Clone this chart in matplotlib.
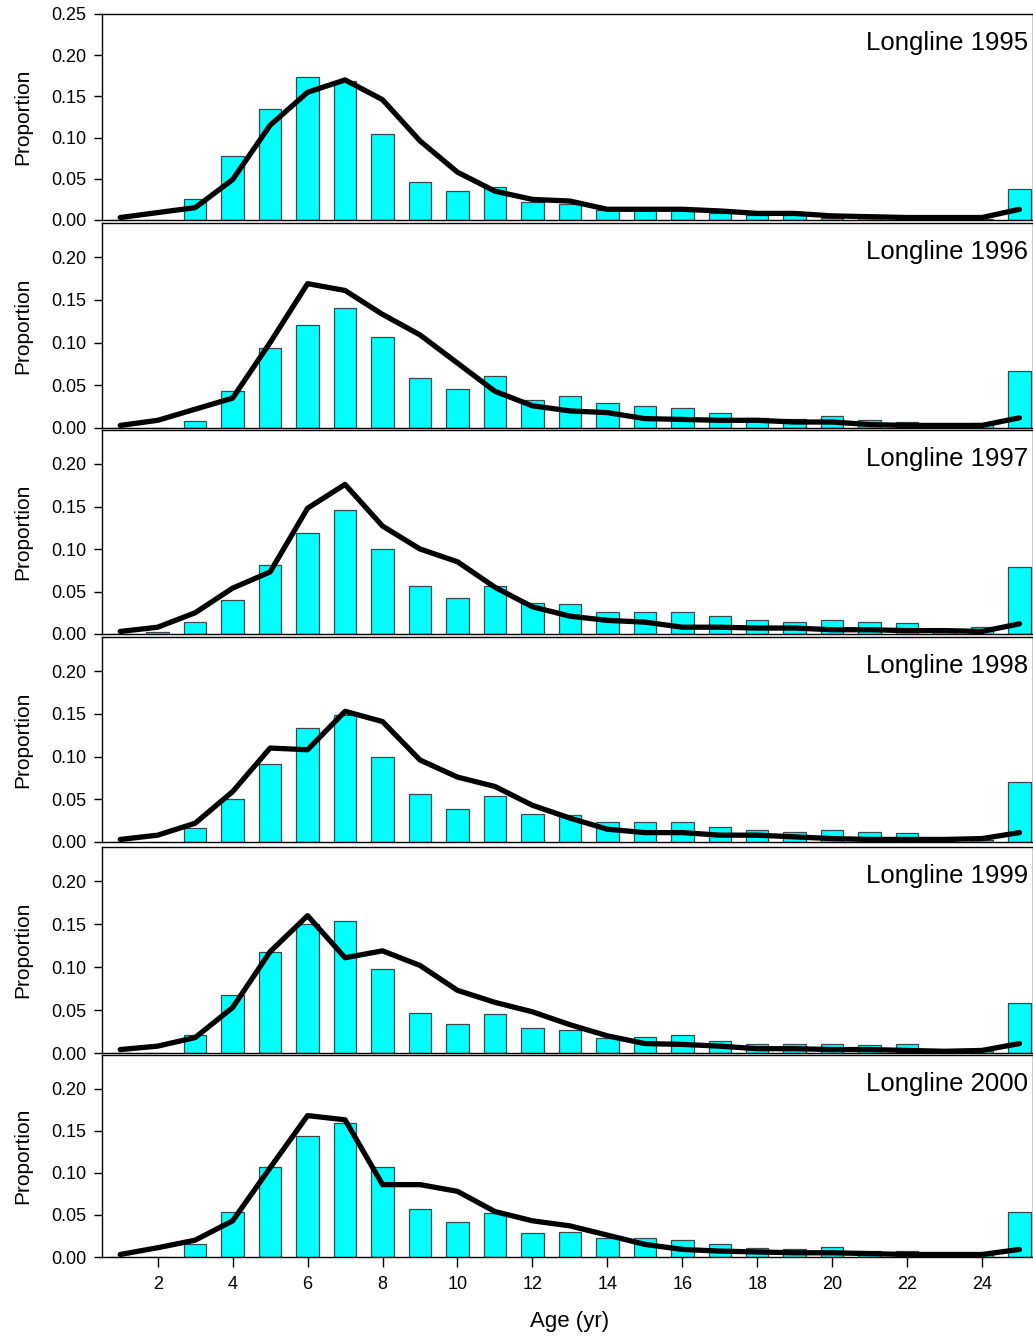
import matplotlib
matplotlib.use("Agg")
import matplotlib.pyplot as plt
import numpy as np

plt.rcParams['font.family'] = ['Liberation Sans', 'DejaVu Sans']

ages = list(range(1, 26))
years = ["1995", "1996", "1997", "1998", "1999", "2000"]

obs_1995 = [0.000, 0.000, 0.026, 0.078, 0.135, 0.174, 0.169, 0.104, 0.046, 0.035, 0.040, 0.022, 0.020,
            0.012, 0.012, 0.012, 0.008, 0.006, 0.006, 0.003, 0.002, 0.002, 0.002, 0.001, 0.038]
fit_1995 = [0.003, 0.009, 0.015, 0.049, 0.115, 0.155, 0.170, 0.146, 0.096, 0.058, 0.035, 0.025, 0.023,
            0.013, 0.013, 0.013, 0.011, 0.008, 0.008, 0.005, 0.004, 0.003, 0.003, 0.003, 0.013]

obs_1996 = [0.000, 0.000, 0.008, 0.043, 0.094, 0.121, 0.141, 0.106, 0.059, 0.046, 0.061, 0.033, 0.038,
            0.029, 0.026, 0.024, 0.017, 0.012, 0.010, 0.014, 0.009, 0.007, 0.002, 0.006, 0.067]
fit_1996 = [0.003, 0.009, 0.022, 0.035, 0.100, 0.169, 0.161, 0.133, 0.109, 0.076, 0.043, 0.026, 0.020,
            0.018, 0.011, 0.010, 0.009, 0.009, 0.007, 0.007, 0.004, 0.003, 0.003, 0.003, 0.012]

obs_1997 = [0.000, 0.002, 0.014, 0.040, 0.081, 0.119, 0.146, 0.100, 0.056, 0.042, 0.056, 0.036, 0.035,
            0.026, 0.026, 0.026, 0.021, 0.016, 0.014, 0.016, 0.014, 0.013, 0.002, 0.008, 0.079]
fit_1997 = [0.003, 0.008, 0.025, 0.054, 0.073, 0.148, 0.176, 0.127, 0.100, 0.085, 0.055, 0.032, 0.021,
            0.016, 0.014, 0.008, 0.008, 0.007, 0.007, 0.005, 0.005, 0.004, 0.004, 0.003, 0.012]

obs_1998 = [0.000, 0.000, 0.016, 0.050, 0.091, 0.133, 0.149, 0.099, 0.056, 0.039, 0.054, 0.033, 0.032,
            0.023, 0.023, 0.023, 0.018, 0.014, 0.012, 0.014, 0.012, 0.011, 0.002, 0.002, 0.070]
fit_1998 = [0.003, 0.008, 0.022, 0.059, 0.110, 0.108, 0.153, 0.141, 0.096, 0.076, 0.065, 0.043, 0.028,
            0.015, 0.011, 0.011, 0.008, 0.008, 0.006, 0.004, 0.003, 0.003, 0.003, 0.004, 0.011]

obs_1999 = [0.000, 0.000, 0.021, 0.068, 0.118, 0.150, 0.154, 0.098, 0.047, 0.034, 0.045, 0.029, 0.027,
            0.018, 0.019, 0.021, 0.014, 0.011, 0.010, 0.011, 0.009, 0.010, 0.002, 0.002, 0.058]
fit_1999 = [0.004, 0.008, 0.018, 0.053, 0.118, 0.160, 0.111, 0.119, 0.102, 0.073, 0.059, 0.048, 0.033,
            0.020, 0.011, 0.010, 0.008, 0.005, 0.005, 0.004, 0.004, 0.003, 0.002, 0.003, 0.011]

obs_2000 = [0.000, 0.000, 0.015, 0.054, 0.107, 0.144, 0.159, 0.107, 0.057, 0.041, 0.052, 0.029, 0.030,
            0.022, 0.022, 0.020, 0.015, 0.011, 0.009, 0.012, 0.007, 0.007, 0.002, 0.002, 0.053]
fit_2000 = [0.003, 0.011, 0.020, 0.043, 0.106, 0.168, 0.163, 0.086, 0.086, 0.078, 0.054, 0.043, 0.037,
            0.026, 0.015, 0.009, 0.007, 0.006, 0.005, 0.005, 0.004, 0.003, 0.003, 0.003, 0.009]

observed = [obs_1995, obs_1996, obs_1997, obs_1998, obs_1999, obs_2000]
fitted = [fit_1995, fit_1996, fit_1997, fit_1998, fit_1999, fit_2000]
xticks = list(range(2, 25, 2))

W, H = 1033, 1338
fig = plt.figure(figsize=(W / 100, H / 100), dpi=100)

# panel pixel extents (top, bottom)
extents = [(14, 220), (223, 428), (430, 634), (637, 842), (847, 1053), (1055, 1257)]
left_px, right_px = 101.5, 1033
axw = right_px - left_px

for i, (yr, obs, fit) in enumerate(zip(years, observed, fitted)):
    top, bot = extents[i]
    axh = bot - top
    ax = fig.add_axes([left_px / W, 1 - bot / H, axw / W, axh / H])
    ax.bar(ages, obs, width=0.6, color='#00FFFF', edgecolor='#3a4a4a', linewidth=0.9, zorder=2)
    ax.plot(ages, fit, color='black', linewidth=3.8, solid_capstyle='round',
            solid_joinstyle='round', zorder=3)
    ax.set_xlim(0.5, 25.36)
    if i == 0:
        ax.set_ylim(0, 0.25)
        ax.set_yticks([0.0, 0.05, 0.10, 0.15, 0.20, 0.25])
    else:
        ax.set_ylim(0, 0.24)
        ax.set_yticks([0.0, 0.05, 0.10, 0.15, 0.20])
    ax.set_yticklabels(["%.2f" % v for v in ax.get_yticks()], fontsize=13)
    ax.tick_params(axis='y', direction='out', length=6, width=1, pad=5)
    if i == len(years) - 1:
        ax.set_xticks(xticks)
        ax.set_xticklabels([str(t) for t in xticks], fontsize=13)
        ax.tick_params(axis='x', direction='out', length=7, width=1, pad=7)
        ax.set_xlabel("Age (yr)", fontsize=16)
        ax.xaxis.set_label_coords((570 - left_px) / axw, -(1311 - bot) / axh)
    else:
        ax.set_xticks([])
    for s in ax.spines.values():
        s.set_linewidth(1.0)
        s.set_color('black')
    ax.set_ylabel("Proportion", fontsize=15)
    ax.yaxis.set_label_coords(-(left_px - 32) / axw, 0.5)
    ax.text(1028 / W, 1 - (top + 29) / H, "Longline " + yr, transform=fig.transFigure,
            ha='right', va='center', fontsize=18.5)

fig.savefig("out.png", dpi=100)
